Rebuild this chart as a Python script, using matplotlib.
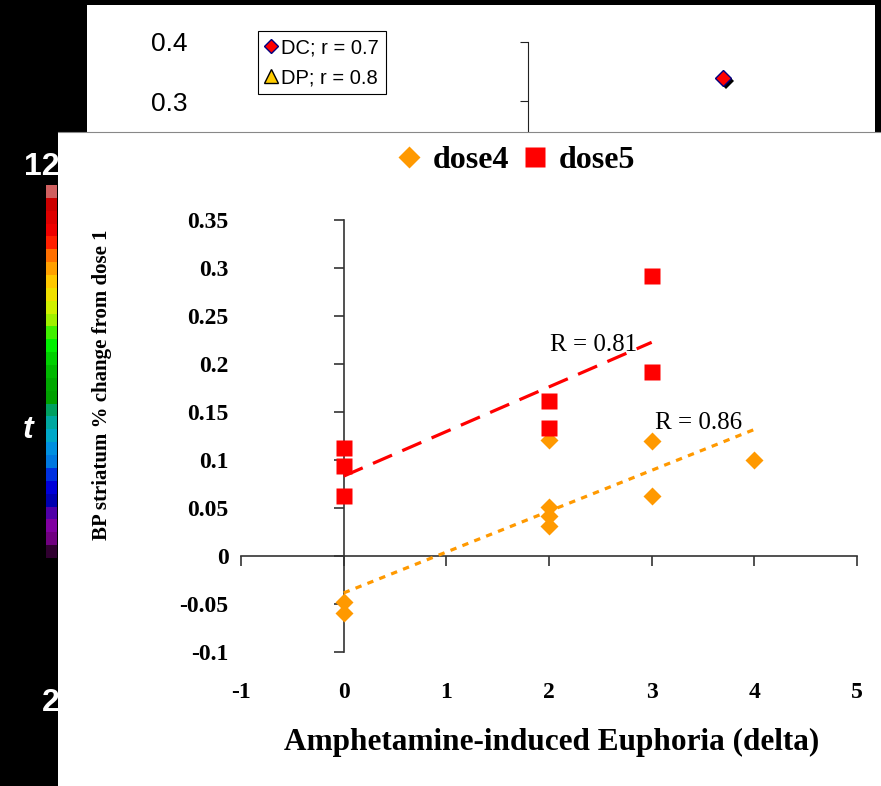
import numpy as np
import matplotlib
matplotlib.use('Agg')
import matplotlib.pyplot as plt
from matplotlib.colors import ListedColormap
from matplotlib.lines import Line2D
import matplotlib.patheffects as pe

plt.rcParams['axes.unicode_minus'] = False

W, H = 881, 786

# main chart data
dose4_x = [0, 0, 2, 2, 2, 2, 3, 3, 4]
dose4_y = [-0.048, -0.059, 0.121, 0.051, 0.042, 0.031, 0.12, 0.062, 0.10]
dose5_x = [0, 0, 0, 2, 2, 3, 3]
dose5_y = [0.113, 0.094, 0.062, 0.161, 0.133, 0.292, 0.192]
x_ticks = [-1, 0, 1, 2, 3, 4, 5]
x_ticklabels = ['-1', '0', '1', '2', '3', '4', '5']
y_ticks = [-0.1, -0.05, 0, 0.05, 0.1, 0.15, 0.2, 0.25, 0.3, 0.35]
y_ticklabels = ['-0.1', '-0.05', '0', '0.05', '0.1', '0.15', '0.2', '0.25', '0.3', '0.35']
r_labels = ['R = 0.81', 'R = 0.86']

# fragment of the chart above
frag_x = [1.95]
frag_y = [0.339]
frag_ticks = [0.3, 0.4]
frag_labels = ['DC; r = 0.7', 'DP; r = 0.8']

# colour scale strip on the left
cbar_colors = ['#d06060', '#cc0000', '#dd0000', '#ee0000', '#ff2000', '#ff7000',
               '#ffa000', '#ffc800', '#f0e000', '#d0f000', '#a0f000', '#40f000',
               '#00f000', '#00d000', '#00b800', '#00a800', '#00a000', '#00a060',
               '#00a8a0', '#00a8c8', '#0090e0', '#0078e0', '#0030e0', '#0000d8',
               '#0000b0', '#5000a8', '#8000a0', '#700080', '#300030']


def px_rect(x0, y0, x1, y1):
    return [x0 / W, 1 - y1 / H, (x1 - x0) / W, (y1 - y0) / H]


fig = plt.figure(figsize=(W / 100, H / 100), dpi=100)
fig.patch.set_facecolor('black')

# black background with the colour strip labels
bg = fig.add_axes([0, 0, 1, 1], zorder=-2)
bg.set_facecolor('black')
bg.axis('off')
bg.set_xlim(0, W)
bg.set_ylim(H, 0)
bg.text(60, 167, '12', color='white', fontsize=23, fontweight='bold',
        family='Liberation Sans', ha='right', va='center')
bg.text(28, 430, 't', color='white', fontsize=23, fontweight='bold', style='italic',
        family='Liberation Sans', ha='center', va='center')
bg.text(60, 703, '2', color='white', fontsize=23, fontweight='bold',
        family='Liberation Sans', ha='right', va='center')

cax = fig.add_axes(px_rect(46, 185, 57, 558), zorder=-1)
cax.imshow(np.arange(len(cbar_colors))[:, None], cmap=ListedColormap(cbar_colors),
           aspect='auto', interpolation='nearest')
cax.axis('off')

# top panel (fragment of another chart)
top = fig.add_axes(px_rect(87, 5, 875, 132), zorder=0)
top.set_facecolor('white')
top.set_xlim(-4.41, 3.47)
top.set_ylim(0.249, 0.461)
for s in ['top', 'right', 'bottom']:
    top.spines[s].set_visible(False)
top.spines['left'].set_position(('data', 0))
top.spines['left'].set_bounds(0.2, 0.4)
top.spines['left'].set_color('#222222')
top.set_xticks([])
top.set_yticks(frag_ticks)
top.set_yticklabels(['0.3', '0.4'], family=['Liberation Sans Narrow', 'Liberation Sans'],
                    fontsize=19)
top.tick_params(axis='y', direction='out', length=6, color='#222222', pad=239)
top.plot(frag_x, frag_y, 'D', ms=8, mfc='red', mec='navy', mew=1, clip_on=False,
         path_effects=[pe.SimplePatchShadow(offset=(2, -2), shadow_rgbFace='black', alpha=1),
                       pe.Normal()])
h1 = Line2D([], [], ls='none', marker='D', ms=7, mfc='red', mec='navy', mew=1)
h2 = Line2D([], [], ls='none', marker='^', ms=10, mfc='#ffcc00', mec='black', mew=1)
leg_top = top.legend([h1, h2], frag_labels, loc='upper left',
                     bbox_to_anchor=(258 / W, 1 - 31 / H), bbox_transform=fig.transFigure,
                     prop={'family': ['Liberation Sans Narrow', 'Liberation Sans'], 'size': 14.5},
                     frameon=True, fancybox=False, edgecolor='black', framealpha=1,
                     handlelength=0.6, handletextpad=0.2, borderpad=0.35, labelspacing=0.55,
                     borderaxespad=0)
leg_top.get_frame().set_linewidth(0.8)

# main white panel
panel = fig.add_axes(px_rect(58, 132, W, H), zorder=1)
panel.set_facecolor('white')
panel.set_xticks([])
panel.set_yticks([])
for s in ['left', 'right', 'bottom']:
    panel.spines[s].set_visible(False)
panel.spines['top'].set_color('#888888')

# main chart
ax = fig.add_axes(px_rect(241, 220, 857, 652), zorder=2)
ax.set_facecolor('none')
ax.set_xlim(-1, 5)
ax.set_ylim(-0.1, 0.35)

orange = '#ff9900'
red = '#ff0000'
ax.plot(dose4_x, dose4_y, 'D', ms=9.4, color=orange, mec='none', label='dose4',
        clip_on=False, zorder=3)
ax.plot(dose5_x, dose5_y, 's', ms=12, color=red, mec='none', label='dose5',
        clip_on=False, zorder=4)

# linear trend lines
for xs, ys, col, dashes in [(dose5_x, dose5_y, red, (6.5, 3.5)),
                            (dose4_x, dose4_y, orange, (2.0, 2.0))]:
    k, b = np.polyfit(xs, ys, 1)
    xx = np.array([min(xs), max(xs)])
    ax.plot(xx, k * xx + b, color=col, lw=2.3, dashes=dashes, zorder=5,
            solid_capstyle='butt', dash_capstyle='butt')

ax.text(2.01, 0.22, r_labels[0], family='Liberation Serif', fontsize=18,
        ha='left', va='center', zorder=6)
ax.text(3.03, 0.1385, r_labels[1], family='Liberation Serif', fontsize=18,
        ha='left', va='center', zorder=6)

for s in ['top', 'right']:
    ax.spines[s].set_visible(False)
ax.spines['left'].set_position(('data', 0))
ax.spines['bottom'].set_position(('data', 0))
for s in ['left', 'bottom']:
    ax.spines[s].set_color('#333333')
    ax.spines[s].set_linewidth(1.2)

ax.set_xticks(x_ticks)
ax.set_xticklabels(x_ticklabels)
ax.set_yticks(y_ticks)
ax.set_yticklabels(y_ticklabels)
ax.tick_params(axis='both', direction='out', length=7, width=1.2, color='#333333',
               labelsize=17)
ax.tick_params(axis='y', pad=76)
ax.tick_params(axis='x', pad=84)
for lab in ax.get_xticklabels() + ax.get_yticklabels():
    lab.set_family('Liberation Serif')
    lab.set_fontweight('bold')

ax.set_xlabel('Amphetamine-induced Euphoria (delta)', family='Liberation Serif',
              fontweight='bold', fontsize=22.5)
ax.xaxis.set_label_coords(0.505, -0.175)
ax.set_ylabel('BP striatum % change from dose 1', family='Liberation Serif',
              fontweight='bold', fontsize=15)
ax.yaxis.set_label_coords(-0.21, 0.618)

ax.legend(loc='center', bbox_to_anchor=(515 / W, 1 - 160 / H), bbox_transform=fig.transFigure,
          ncol=2, frameon=False, markerscale=1.2, handlelength=0.9, handletextpad=0.3,
          columnspacing=0.35, prop={'family': 'Liberation Serif', 'weight': 'bold', 'size': 23})

fig.savefig('out.png', dpi=100, facecolor=fig.get_facecolor())
